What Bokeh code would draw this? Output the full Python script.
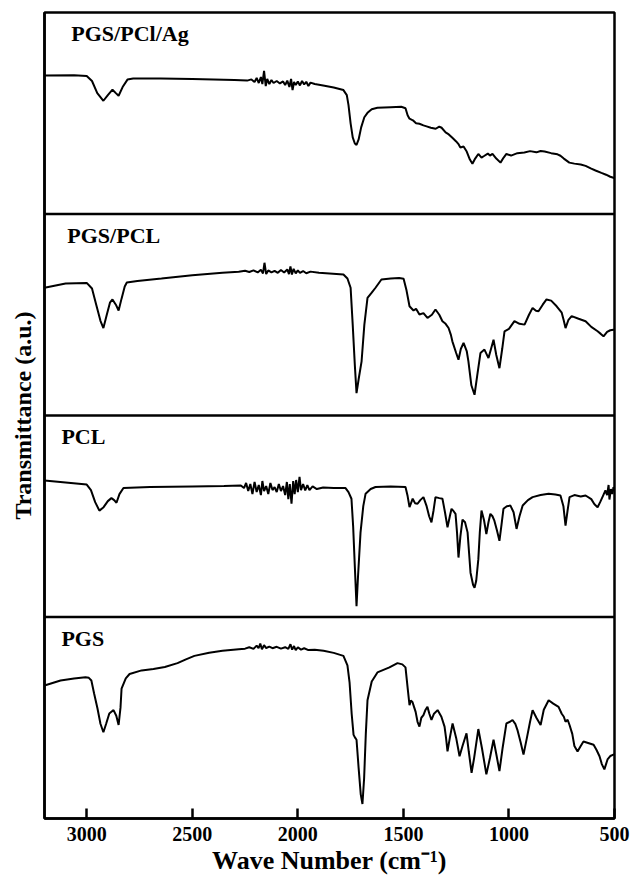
from bokeh.plotting import figure
from bokeh.models import Range1d, FixedTicker, Span, Label
from bokeh.embed import file_html
from bokeh.resources import INLINE

# Panel names, bottom to top
SAMPLES = ["PGS", "PCL", "PGS/PCL", "PGS/PCl/Ag"]
X_TICKS = [3000, 2500, 2000, 1500, 1000, 500]

# (wave number cm^-1, transmittance in % of panel height)
SPEC_AG = [
    (3200, 68.7), (3060, 68.8), (3000, 68.5), (2975, 66), (2950, 60), (2921, 56.2), (2900, 59),
    (2878, 61.7), (2862, 60), (2849, 58.7), (2830, 63), (2807, 66.7), (2780, 67.2), (2650, 67.3),
    (2500, 67), (2400, 66.8), (2300, 66.5), (2240, 66.2),
    (2220, 66.8), (2205, 65.5), (2195, 67.5), (2185, 65), (2175, 68), (2168, 64.5), (2160, 71),
    (2152, 63.5), (2145, 67), (2135, 64.5), (2125, 66.5), (2115, 65), (2100, 66), (2085, 64.8),
    (2070, 65.8), (2060, 64), (2050, 66.2), (2040, 63), (2032, 67), (2025, 61.5), (2018, 65.5),
    (2010, 64), (2000, 65.8), (1990, 63.8), (1980, 66), (1970, 64.3), (1960, 65.6), (1950, 63.5),
    (1940, 65.2), (1920, 64.5), (1880, 63.8), (1830, 62.8), (1784, 61.5), (1768, 59), (1760, 54),
    (1750, 45), (1740, 38), (1730, 35), (1722, 34.3), (1712, 37), (1700, 43), (1685, 48),
    (1670, 50.2), (1650, 52), (1623, 52.7), (1560, 53), (1510, 53.2), (1490, 52.5), (1480, 49),
    (1471, 47.3), (1455, 46.5), (1440, 45), (1424, 44.8), (1405, 44), (1390, 43.5), (1370, 42.8),
    (1347, 42.3), (1330, 43.4), (1319, 42.8), (1300, 40.5), (1285, 39.5), (1268, 37.8), (1250, 36),
    (1238, 34.5), (1230, 33), (1215, 33.5), (1200, 31), (1185, 27), (1173, 24.9), (1160, 27.5),
    (1145, 29.8), (1130, 28), (1116, 28.9), (1100, 30), (1090, 29), (1078, 29.8), (1060, 27.5),
    (1040, 25.5), (1025, 28), (1012, 29.8), (990, 29), (960, 30.2), (927, 30.5), (900, 31.2),
    (870, 30.6), (850, 31.3), (831, 31), (800, 30.2), (770, 29.6), (756, 28.9), (740, 27.5),
    (714, 25.5), (690, 25), (660, 24.6), (637, 23.9), (610, 22.5), (590, 21.6), (562, 20.4),
    (540, 19.5), (520, 18.5), (505, 18), (500, 17.8),
]

SPEC_PGS_PCL = [
    (3200, 63.4), (3100, 65.5), (3000, 65.8), (2975, 63), (2955, 55), (2935, 47), (2921, 43.4),
    (2905, 50), (2890, 56), (2878, 57.6), (2862, 55), (2849, 52.1), (2835, 58), (2820, 64),
    (2810, 66), (2760, 66.8), (2646, 68), (2500, 69.6), (2357, 70.8), (2280, 71.3),
    (2250, 71.8), (2230, 71.2), (2210, 72), (2190, 71), (2175, 72.3), (2165, 70.5), (2158, 75.8),
    (2150, 70.2), (2140, 72), (2125, 71), (2110, 71.8), (2095, 70.8), (2080, 72.2), (2065, 71),
    (2050, 72.5), (2042, 70.2), (2035, 74), (2028, 70), (2020, 72.8), (2010, 70.5), (2000, 72),
    (1990, 70.8), (1975, 71.7), (1960, 70.6), (1940, 71.4), (1900, 70.8), (1850, 70.5),
    (1784, 70), (1765, 68), (1750, 63.4), (1740, 45), (1730, 25), (1722, 11.1), (1712, 18),
    (1698, 26.9), (1685, 45), (1670, 58.4), (1650, 61), (1632, 63.4), (1604, 67.5), (1560, 68),
    (1520, 68.2), (1499, 67.9), (1485, 62), (1471, 54.2), (1460, 53), (1452, 52.1), (1440, 53),
    (1424, 50.1), (1405, 50.8), (1386, 48.4), (1365, 50), (1348, 52.6), (1330, 50), (1315, 46.8),
    (1300, 45.5), (1286, 43.4), (1275, 40), (1268, 36.8), (1250, 31), (1239, 27.7), (1228, 33),
    (1215, 36), (1200, 32), (1192, 26.9), (1178, 15), (1163, 10.3), (1150, 20), (1135, 31),
    (1116, 32.7), (1097, 28.5), (1085, 33), (1073, 37.6), (1060, 30), (1045, 23.5), (1032, 33),
    (1021, 41.8), (1000, 43), (974, 46.8), (950, 45.5), (926, 45.1), (905, 50), (888, 53.4),
    (872, 52), (860, 51.7), (840, 55), (822, 57.6), (800, 57), (774, 54.2), (750, 51), (740, 47),
    (732, 43.4), (718, 47.5), (703, 49.3), (670, 48), (637, 46.8), (610, 44), (580, 41.8),
    (565, 40.5), (552, 39.3), (535, 41.5), (520, 42.3), (505, 42.6), (500, 42.6),
]

SPEC_PCL = [
    (3200, 67.8), (3100, 66.8), (3000, 65.7), (2980, 63), (2960, 57), (2940, 52.8), (2920, 54.5),
    (2900, 57.5), (2883, 59), (2870, 58), (2859, 56.7), (2845, 61), (2826, 64), (2700, 64.5),
    (2500, 64.8), (2350, 65), (2270, 65.3),
    (2255, 64), (2245, 66.5), (2235, 62.5), (2225, 66), (2215, 61), (2205, 67), (2195, 62),
    (2185, 65.5), (2175, 60.5), (2168, 67.5), (2160, 62.5), (2150, 65), (2140, 61), (2130, 66.5),
    (2120, 63), (2110, 64.5), (2100, 62), (2090, 66), (2080, 62.5), (2070, 65), (2060, 60.5),
    (2052, 67), (2045, 58.5), (2038, 66), (2030, 56.2), (2022, 67.5), (2015, 61), (2008, 68),
    (2000, 62), (1992, 69.5), (1985, 63), (1975, 66), (1965, 62.8), (1955, 65.5), (1945, 63),
    (1930, 64.8), (1910, 63.5), (1880, 64.3), (1830, 64), (1774, 64), (1760, 62), (1746, 58.7),
    (1738, 45), (1730, 25), (1722, 5.3), (1715, 20), (1703, 42), (1690, 55), (1679, 61.2),
    (1655, 63.5), (1632, 64.5), (1560, 64.8), (1490, 64.5), (1480, 60), (1471, 54.5), (1462, 57),
    (1456, 58.7), (1445, 56.5), (1433, 56.2), (1420, 58), (1405, 59.5), (1390, 55), (1378, 50),
    (1367, 47), (1357, 53), (1348, 59.5), (1330, 59), (1315, 58.7), (1303, 52), (1291, 44.5),
    (1280, 50), (1272, 53.7), (1262, 52.5), (1253, 51.2), (1246, 42), (1239, 29.5), (1230, 40),
    (1220, 48.3), (1208, 47), (1196, 42), (1189, 32), (1182, 22), (1170, 16), (1163, 14.5),
    (1155, 18), (1145, 28.7), (1138, 42), (1130, 52.8), (1118, 48), (1107, 41.2), (1097, 47),
    (1088, 51.2), (1078, 50), (1069, 47.8), (1057, 43), (1045, 37.8), (1035, 46), (1026, 53.7),
    (1010, 55), (993, 55.3), (978, 52), (964, 43.7), (950, 50), (935, 55.3), (910, 58),
    (888, 59.5), (850, 60.5), (812, 61.2), (780, 60.8), (756, 60.3), (742, 55), (732, 45.3),
    (722, 53), (713, 59.5), (690, 60.5), (660, 59.8), (637, 60.3), (610, 58.5), (595, 56),
    (580, 54.5), (568, 57), (555, 60), (543, 62.8), (535, 60.5), (528, 65.5), (524, 58.3),
    (517, 63.5), (510, 61), (505, 64.5), (500, 62.5),
]

SPEC_PGS = [
    (3200, 66), (3124, 68.5), (3060, 69.5), (3006, 70.1), (2990, 69.8), (2978, 68.5), (2965, 62),
    (2949, 54.6), (2935, 47), (2921, 42.8), (2908, 47), (2893, 52.1), (2873, 53.8), (2860, 51),
    (2849, 46.4), (2840, 55), (2835, 64.4), (2815, 69.5), (2797, 71.7), (2740, 73.5),
    (2684, 74.2), (2630, 75.2), (2570, 77.1), (2530, 79), (2490, 80.7), (2420, 82.3),
    (2357, 83.2), (2280, 84),
    (2250, 84.3), (2230, 85), (2210, 84.2), (2195, 85.8), (2186, 84.5), (2178, 86.8), (2170, 84),
    (2160, 86), (2150, 84.6), (2135, 85.3), (2120, 84.5), (2100, 85.2), (2080, 84.3), (2060, 85),
    (2045, 84.2), (2035, 86.5), (2027, 83.8), (2018, 85.6), (2010, 83.5), (2000, 85),
    (1985, 83.8), (1970, 84.5), (1950, 83.6), (1920, 83.8), (1878, 83.2), (1830, 82.2),
    (1784, 80.7), (1765, 76), (1755, 67.6), (1745, 52), (1736, 41.5), (1728, 40), (1722, 39.1),
    (1712, 25), (1702, 12), (1694, 7.2), (1686, 20), (1678, 42), (1670, 58.7), (1650, 68),
    (1623, 72.5), (1566, 75), (1528, 77.1), (1505, 76.5), (1490, 75), (1480, 65), (1471, 56.2),
    (1465, 58.5), (1457, 57.8), (1450, 55.5), (1442, 52.9), (1433, 48), (1424, 45.6),
    (1415, 50), (1405, 51.3), (1395, 54), (1386, 55.4), (1377, 52), (1367, 48.9), (1355, 52),
    (1338, 53.8), (1320, 50.5), (1305, 45.6), (1298, 40), (1291, 33.3), (1280, 40), (1267, 47.2),
    (1250, 40), (1234, 30.9), (1220, 36), (1201, 42.3), (1190, 33), (1177, 22.7), (1165, 30),
    (1145, 44.4), (1128, 35), (1107, 21.9), (1090, 30), (1073, 39.1), (1060, 32), (1045, 23.5),
    (1030, 35), (1012, 47.2), (995, 48), (983, 48.9), (970, 47), (960, 44), (945, 38),
    (931, 31.7), (915, 40), (900, 48), (888, 53.8), (870, 50), (850, 46.4), (835, 54),
    (812, 58.7), (790, 57), (765, 55.4), (750, 52), (740, 50.5), (732, 48), (722, 49),
    (713, 46.4), (700, 42), (690, 36), (675, 33.3), (660, 36), (647, 38.2), (625, 37.5),
    (599, 36.6), (585, 34), (571, 30.9), (560, 27), (548, 24.4), (540, 27), (533, 29.3),
    (520, 31), (505, 31.7), (500, 31.7),
]

SPECTRA = [SPEC_PGS, SPEC_PCL, SPEC_PGS_PCL, SPEC_AG]   # bottom to top
LABEL_X = [3120, 3120, 3092, 3073]

FONT = "Liberation Serif"

p = figure(width=631, height=890, output_backend="svg", toolbar_location=None,
           x_range=Range1d(3200, 500), y_range=Range1d(0, 4),
           min_border_left=44, min_border_right=17, min_border_top=12, min_border_bottom=72)

p.grid.visible = False
p.outline_line_color = "black"
p.outline_line_width = 2.5
p.background_fill_color = "white"
p.border_fill_color = "white"

for i, spec in enumerate(SPECTRA):
    xs = [a for a, b in spec]
    ys = [i + b / 100.0 for a, b in spec]
    p.line(xs, ys, line_color="black", line_width=2)

for loc in [1, 2, 3]:
    p.add_layout(Span(location=loc, dimension="width", line_color="black", line_width=2.5))

for i, name in enumerate(SAMPLES):
    p.add_layout(Label(x=LABEL_X[i], y=i + 1 - 21.0 / 201.0, text=name,
                       text_font=FONT, text_font_style="bold", text_font_size="22px",
                       text_baseline="middle", text_align="left", text_color="black"))

xa = p.xaxis[0]
xa.ticker = FixedTicker(ticks=X_TICKS)
xa.major_tick_in = 10
xa.major_tick_out = 0
xa.minor_tick_line_color = None
xa.major_tick_line_color = "black"
xa.major_tick_line_width = 2.5
xa.axis_line_color = "black"
xa.axis_line_width = 2.5
xa.major_label_text_font = FONT
xa.major_label_text_font_style = "bold"
xa.major_label_text_font_size = "20px"
xa.major_label_text_color = "black"
xa.major_label_standoff = 8
xa.axis_label = "Wave Number (cm\u207b\u00b9)"
xa.axis_label_text_font = FONT
xa.axis_label_text_font_style = "bold"
xa.axis_label_text_font_size = "26px"
xa.axis_label_text_color = "black"
xa.axis_label_standoff = 2

ya = p.yaxis[0]
ya.ticker = FixedTicker(ticks=[])
ya.major_tick_in = 0
ya.major_tick_out = 0
ya.minor_tick_line_color = None
ya.major_tick_line_color = None
ya.major_label_standoff = 0
ya.axis_line_color = "black"
ya.axis_line_width = 2.5
ya.axis_label = "Transmittance (a.u.)"
ya.axis_label_text_font = FONT
ya.axis_label_text_font_style = "bold"
ya.axis_label_text_font_size = "24px"
ya.axis_label_text_color = "black"
ya.axis_label_standoff = 9

open("out.html", "w").write(file_html(p, INLINE))
